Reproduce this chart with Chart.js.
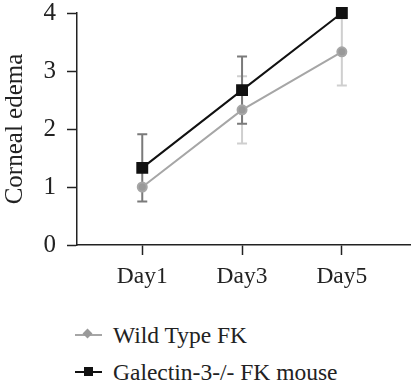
<!DOCTYPE html>
<html>
<head>
<meta charset="utf-8">
<script src="https://cdn.jsdelivr.net/npm/chart.js@4/dist/chart.umd.min.js"></script>
<style>
  html, body { margin: 0; padding: 0; background: #fff; }
  body { width: 419px; height: 389px; position: relative; overflow: hidden; font-family: 'Liberation Serif'; }
  #wrap { position: absolute; left: 0; top: 0; width: 419px; height: 300px; }
  .leg { position: absolute; left: 75px; height: 26px; font-size: 23.5px; color: #222; line-height: 26px; font-family: 'Liberation Serif'; }
  .leg .ln { position: absolute; left: 0; top: 12px; width: 27px; height: 2px; }
  .leg .mk { position: absolute; }
  .leg .tx { position: absolute; left: 38px; top: 0; white-space: nowrap; }
</style>
</head>
<body>
<div id="wrap"><canvas id="c" width="419" height="300"></canvas></div>
<div class="leg" style="top:322px">
  <div class="ln" style="background:#a6a6a6"></div>
  <div class="mk" style="left:9px;top:8px;width:7px;height:7px;background:#999;transform:rotate(45deg);"></div>
  <span class="tx">Wild Type FK</span>
</div>
<div class="leg" style="top:359px">
  <div class="ln" style="background:#111"></div>
  <div class="mk" style="left:9px;top:8px;width:9px;height:9px;background:#111;"></div>
  <span class="tx">Galectin-3-/- FK mouse</span>
</div>
<script>
const categories = ['Day1', 'Day3', 'Day5'];
const wildType = [1.0, 2.33, 3.33];
const wildTypeErr = [0, 0.58, 0.58];
const galectin = [1.33, 2.67, 4.0];
const galectinErr = [0.58, 0.58, 0];
const yTickValues = [0, 1, 2, 3, 4];

const FONT = "'Liberation Serif'";
Chart.defaults.font.family = FONT;
const toPts = arr => arr.map((v, i) => ({ x: i, y: v }));

const errorBars = {
  id: 'errorBars',
  beforeDatasetsDraw(chart) {
    const ctx = chart.ctx;
    const xs = chart.scales.x, ys = chart.scales.y;
    const sets = [
      { vals: wildType, errs: wildTypeErr, color: '#cfcfcf' },
      { vals: galectin, errs: galectinErr, color: '#7a7a7a' }
    ];
    ctx.save();
    ctx.lineWidth = 2;
    sets.forEach(s => {
      ctx.strokeStyle = s.color;
      s.vals.forEach((v, i) => {
        const e = s.errs[i];
        if (!e) return;
        const px = xs.getPixelForValue(i);
        const top = ys.getPixelForValue(v + e);
        const bot = ys.getPixelForValue(v - e);
        ctx.beginPath();
        ctx.moveTo(px, top); ctx.lineTo(px, bot);
        ctx.moveTo(px - 5, top); ctx.lineTo(px + 5, top);
        ctx.moveTo(px - 5, bot); ctx.lineTo(px + 5, bot);
        ctx.stroke();
      });
    });
    ctx.restore();
  }
};

new Chart(document.getElementById('c'), {
  type: 'line',
  data: {
    datasets: [
      {
        label: 'Galectin-3-/- FK mouse',
        data: toPts(galectin),
        borderColor: '#111',
        backgroundColor: '#111',
        borderWidth: 2,
        pointStyle: 'rect',
        pointRadius: 7,
        pointHoverRadius: 7,
        clip: false
      },
      {
        label: 'Wild Type FK',
        data: toPts(wildType),
        borderColor: '#a6a6a6',
        backgroundColor: '#999',
        borderWidth: 2,
        pointStyle: 'circle',
        pointRadius: 4.5,
        pointHoverRadius: 4.5,
        clip: false
      }
    ]
  },
  options: {
    responsive: false,
    animation: false,
    layout: { padding: { top: 13, right: 0, left: 0, bottom: 0 } },
    plugins: { legend: { display: false }, tooltip: { enabled: false } },
    scales: {
      x: {
        type: 'linear',
        min: -0.654,
        max: 2.683,
        afterBuildTicks: s => { s.ticks = categories.map((c, i) => ({ value: i })); },
        afterFit: s => { s.height = 55; s.paddingLeft = 0; s.paddingRight = 0; },
        ticks: {
          callback: v => categories[v],
          color: '#222',
          font: { family: FONT, size: 23.5 },
          padding: 8,
          maxRotation: 0
        },
        grid: { drawOnChartArea: false, drawTicks: true, tickLength: 10, tickWidth: 1.5, tickColor: '#222' },
        border: { color: '#222', width: 1.5 }
      },
      y: {
        min: 0,
        max: 4,
        afterBuildTicks: s => { s.ticks = yTickValues.map(v => ({ value: v })); },
        afterFit: s => { s.width = 77; s.paddingTop = 0; s.paddingBottom = 0; },
        ticks: {
          color: '#222',
          font: { family: FONT, size: 25 },
          padding: 11
        },
        title: {
          display: true,
          text: 'Corneal edema',
          color: '#222',
          font: { family: FONT, size: 25 },
          padding: 0
        },
        grid: { drawOnChartArea: false, drawTicks: true, tickLength: 10, tickWidth: 1.5, tickColor: '#222' },
        border: { color: '#222', width: 1.5 }
      }
    }
  },
  plugins: [errorBars]
});
</script>
</body>
</html>
